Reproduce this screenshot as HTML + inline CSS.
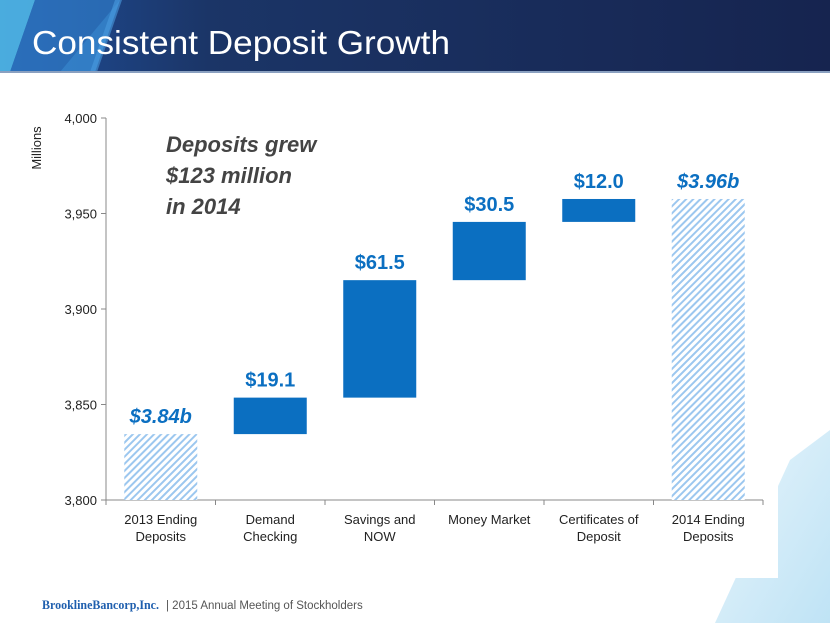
<!DOCTYPE html>
<html><head><meta charset="utf-8"><style>
html,body{margin:0;padding:0}
body{width:830px;height:623px;overflow:hidden;background:#fff;font-family:"Liberation Sans",sans-serif;position:relative}
</style></head><body>
<svg width="830" height="623" style="position:absolute;left:0;top:0">
<defs>
<linearGradient id="hdr" x1="0" y1="0" x2="1" y2="0"><stop offset="0" stop-color="#1f4f9a"/><stop offset="0.25" stop-color="#1b3567"/><stop offset="1" stop-color="#16244f"/></linearGradient>
<linearGradient id="br" x1="0" y1="0" x2="1" y2="1"><stop offset="0" stop-color="#e8f5fc"/><stop offset="1" stop-color="#bfe3f5"/></linearGradient>
<pattern id="hatch" width="5" height="5" patternUnits="userSpaceOnUse" patternTransform="rotate(45)"><rect width="5" height="5" fill="#fff"/><rect width="2" height="5" fill="#9cc7ef"/></pattern>
</defs>
<g>
<rect x="0" y="0" width="830" height="72" fill="url(#hdr)"/>
<polygon points="0,0 35,0 10,72 0,72" fill="#4fb6e6" opacity="0.9"/>
<polygon points="35,0 120,0 95,72 10,72" fill="#2f7cc9" opacity="0.7"/>
<polygon points="120,0 60,72 95,72" fill="#3b8fd6" opacity="0.5"/>
<polygon points="115,0 122,0 97,72 90,72" fill="#4a9be0" opacity="0.6"/>
<rect x="0" y="71" width="830" height="2" fill="#8aa0c0"/>
</g>
<text x="32" y="54" font-size="33" fill="#fff" textLength="418" lengthAdjust="spacingAndGlyphs">Consistent Deposit Growth</text>
<polygon points="830,430 830,623 715,623 790,460" fill="url(#br)"/>
<rect x="0" y="73" width="778" height="505" fill="#fff"/>
<g id="chart"></g>
<text x="42" y="609" font-size="13" font-family="Liberation Serif,serif" fill="#1f5fae" font-weight="bold" textLength="117" lengthAdjust="spacingAndGlyphs">BrooklineBancorp,Inc.</text>
<text x="166" y="609" font-size="11.5" fill="#555">|  2015 Annual Meeting of Stockholders</text>
</svg>
<script>
const categories=[["2013 Ending","Deposits"],["Demand","Checking"],["Savings and","NOW"],["Money Market"],["Certificates of","Deposit"],["2014 Ending","Deposits"]];
const startTotal=3834.5;
const increments=[19.1,61.5,30.5,12.0];
const valueLabels=["$3.84b","$19.1","$61.5","$30.5","$12.0","$3.96b"];
const yTicks=[3800,3850,3900,3950,4000];
const yTickLabels=["3,800","3,850","3,900","3,950","4,000"];
const NS="http://www.w3.org/2000/svg";
const g=document.getElementById('chart');
const x0=106,x1=763,yMin=3800,yMax=4000,py0=500,py1=118;
const y=v=>py0-(v-yMin)/(yMax-yMin)*(py0-py1);
const bw=(x1-x0)/categories.length;
const cx=i=>x0+bw*(i+0.5);
function mk(t,a){const e=document.createElementNS(NS,t);for(const k in a)e.setAttribute(k,a[k]);g.appendChild(e);return e;}
let e=mk('line',{x1:x0,y1:py1,x2:x0,y2:py0,stroke:'#888'});

e=mk('line',{x1:x0,y1:py0,x2:x1,y2:py0,stroke:'#888'});

yTicks.forEach((v,i)=>{
 let t=mk('line',{x1:x0-5,y1:y(v),x2:x0,y2:y(v),stroke:'#888'});
 
 let l=mk('text',{x:x0-9,y:y(v)+5,'text-anchor':'end','font-size':'13',fill:'#222'});
 l.textContent=yTickLabels[i];
 
});
for(let i=0;i<=categories.length;i++){
 let t=mk('line',{x1:x0+bw*i,y1:py0,x2:x0+bw*i,y2:py0+5,stroke:'#888'});
 
}
let yt=mk('text',{x:0,y:0,'font-size':'13',fill:'#222','text-anchor':'middle',transform:'translate(41,148) rotate(-90)'});
yt.textContent='Millions';
const barW=73;
let cum=startTotal;
const bars=[[yMin,startTotal,true]];
increments.forEach(d=>{bars.push([cum,cum+d,false]);cum+=d;});
bars.push([yMin,cum,true]);
bars.forEach((b,i)=>{
 const top=y(b[1]),bot=y(b[0]);
 let r=mk('rect',{x:cx(i)-barW/2,y:top,width:barW,height:bot-top,fill:b[2]?'url(#hatch)':'#0b6fc1'});
 
 let l=mk('text',{x:cx(i),y:top-11,'text-anchor':'middle','font-size':'20','font-weight':'bold','font-style':b[2]?'italic':'normal',fill:'#0b6fc1'});
 l.textContent=valueLabels[i];
 
 categories[i].forEach((s,j)=>{
  let c=mk('text',{x:cx(i),y:524+j*17,'text-anchor':'middle','font-size':'13',fill:'#222'});
  c.textContent=s;
  
 });
});
["Deposits grew","$123 million","in 2014"].forEach((s,j)=>{
 let a=mk('text',{x:166,y:152+j*31,'font-size':'22','font-weight':'bold','font-style':'italic',fill:'#444'});
 a.textContent=s;
 
});
</script>
</body></html>
